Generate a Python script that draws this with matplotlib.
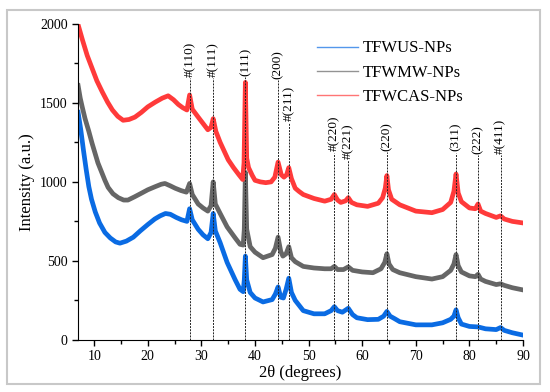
import matplotlib
matplotlib.use("Agg")
import matplotlib.pyplot as plt
from matplotlib.patches import Rectangle

plt.rcParams["font.family"] = ["Liberation Serif", "DejaVu Serif"]

# XRD patterns (2theta in degrees, intensity a.u.)
theta_us = [7.0, 7.5, 8.0, 8.5, 9.0, 9.5, 10.2, 11.0, 12.0, 13.0, 14.0, 14.8, 16.0, 17.3,
            18.6, 20.0, 21.3, 22.3, 23.3, 24.2, 25.3, 26.3, 27.3, 27.8, 28.3, 29.4, 30.3,
            31.2, 31.8, 32.2, 32.6, 33.5, 34.8, 36.3, 37.2, 37.8, 38.0, 38.2, 38.45, 39.1,
            40.0, 41.5, 43.2, 43.8, 44.3, 44.8, 45.3, 45.8, 46.3, 46.8, 47.5, 49.0, 51.0,
            53.0, 54.2, 54.8, 55.4, 56.3, 57.4, 58.2, 59.0, 61.0, 63.0, 64.0, 64.6, 65.2,
            66.0, 67.0, 70.0, 73.0, 75.0, 76.5, 77.1, 77.5, 77.9, 78.5, 80.0, 81.6, 83.0,
            85.0, 85.8, 86.5, 88.0, 90.0]
int_us = [1440, 1330, 1200, 1080, 970, 890, 810, 740, 680, 645, 620, 612, 625, 650,
          690, 730, 765, 785, 800, 795, 775, 760, 750, 830, 760, 700, 665,
          640, 680, 800, 690, 615, 490, 380, 320, 305, 380, 530, 380, 300,
          265, 240, 255, 290, 335, 270, 265, 320, 390, 300, 250, 185, 165,
          165, 185, 210, 185, 175, 200, 160, 140, 128, 130, 150, 180, 150,
          135, 115, 95, 95, 108, 130, 150, 190, 140, 100, 85, 82, 70,
          65, 78, 60, 45, 30]

theta_mw = [7.0, 7.4, 7.8, 8.3, 9.0, 9.6, 10.7, 12.0, 12.6, 13.5, 14.5, 15.5, 16.3, 17.5,
            18.9, 20.0, 21.4, 22.5, 23.2, 24.2, 25.1, 26.2, 27.2, 27.8, 28.3, 29.4, 30.3,
            31.2, 31.8, 32.2, 32.6, 33.5, 34.8, 36.3, 37.2, 37.8, 38.0, 38.2, 38.45, 39.1,
            40.0, 41.5, 43.2, 43.8, 44.3, 44.8, 45.2, 45.8, 46.3, 46.8, 47.5, 49.0, 51.0,
            53.0, 54.2, 54.8, 55.4, 56.5, 57.4, 58.2, 60.0, 62.0, 63.5, 64.2, 64.6, 65.0,
            65.7, 67.0, 70.0, 73.0, 75.0, 76.5, 77.1, 77.5, 77.9, 78.5, 80.0, 81.1, 81.6,
            82.1, 83.0, 85.0, 85.8, 86.5, 88.0, 90.0]
int_mw = [1610, 1530, 1470, 1400, 1320, 1245, 1120, 1010, 965, 925, 900, 885, 885, 905,
          930, 950, 970, 985, 990, 975, 960, 945, 935, 990, 920, 860, 835,
          815, 850, 1000, 860, 800, 715, 645, 605, 600, 700, 1060, 700, 590,
          555, 520, 540, 580, 650, 560, 530, 545, 590, 520, 495, 465, 455,
          450, 450, 465, 445, 445, 462, 440, 430, 425, 450, 490, 545, 480,
          445, 425, 400, 385, 400, 440, 480, 540, 470, 430, 405, 400, 415,
          385, 370, 350, 355, 345, 330, 316]

theta_cas = [7.0, 7.8, 8.7, 9.6, 10.5, 11.5, 12.5, 13.4, 14.4, 15.4, 16.5, 17.6, 18.8,
             20.0, 21.4, 22.7, 23.8, 24.8, 25.7, 26.5, 27.3, 27.8, 28.3, 29.4, 30.3, 31.2,
             31.8, 32.2, 32.7, 33.5, 35.0, 36.0, 37.0, 37.7, 37.95, 38.2, 38.45, 38.8,
             39.5, 40.0, 41.0, 42.0, 43.0, 43.7, 44.3, 44.9, 45.4, 45.9, 46.3, 46.8, 47.5,
             48.2, 49.0, 51.0, 53.0, 54.2, 54.8, 55.4, 56.0, 56.9, 57.4, 58.0, 59.0, 61.0,
             63.0, 63.8, 64.3, 64.6, 64.9, 65.5, 67.0, 70.0, 73.0, 75.0, 76.5, 77.1, 77.5,
             77.9, 78.5, 80.0, 81.1, 81.6, 82.1, 83.0, 85.0, 85.8, 86.5, 88.0, 90.0]
int_cas = [1995, 1900, 1800, 1720, 1640, 1570, 1505, 1455, 1415, 1390, 1395, 1410, 1440,
           1475, 1505, 1530, 1545, 1520, 1490, 1470, 1455, 1550, 1460, 1410, 1370, 1330,
           1345, 1400, 1320, 1250, 1140, 1090, 1045, 1015, 1120, 1630, 1150, 1090,
           1040, 1010, 1000, 995, 1000, 1030, 1125, 1045, 1030, 1045, 1090, 1020, 960,
           940, 920, 895, 878, 890, 920, 885, 870, 880, 900, 870, 855, 845,
           865, 900, 960, 1040, 950, 890, 855, 815, 805, 825, 870, 940, 1050,
           930, 875, 835, 830, 860, 815, 800, 775, 785, 765, 750, 740]

# reflection markers: position, label, height where the label sits
ref_pos = [27.8, 32.2, 38.2, 44.3, 46.3, 54.8, 57.4, 64.6, 77.5, 81.6, 85.8]
ref_lab = ["#(110)", "#(111)", "(111)", "(200)", "#(211)", "#(220)", "#(221)",
           "(220)", "(311)", "(222)", "#(411)"]
ref_top = [1655, 1655, 1665, 1645, 1375, 1185, 1140, 1190, 1185, 1170, 1170]

fig = plt.figure(figsize=(5.5, 3.92), dpi=100)
ax = fig.add_axes([0.142, 0.133, 0.809, 0.806])

# thick lines stand in for the noisy bands of the raw scans
ax.plot(theta_us, int_us, color="#0a6be3", lw=3.4, label="TFWUS-NPs")
ax.plot(theta_mw, int_mw, color="#666666", lw=3.4, label="TFWMW-NPs")
ax.plot(theta_cas, int_cas, color="#ff3a3a", lw=3.4, label="TFWCAS-NPs")

ax.vlines(ref_pos, 0, ref_top, colors="#222222", linewidth=0.7, linestyles=(0, (2, 1.2)))
for x, lab, top in zip(ref_pos, ref_lab, ref_top):
    ax.text(x, top + 8, lab, rotation=90, ha="center", va="bottom", fontsize=9.5)

ax.set_xlim(7, 90)
ax.set_ylim(0, 2000)
ax.set_xticks(range(10, 91, 10))
ax.set_xticks(range(15, 90, 10), minor=True)
ax.set_yticks(range(0, 2001, 500))
ax.set_yticks(range(250, 2000, 500), minor=True)
ax.tick_params(labelsize=10, direction="out", length=4, width=1, color="black")
ax.tick_params(which="minor", length=3, width=1)
ax.spines["top"].set_visible(False)
ax.spines["right"].set_visible(False)
ax.set_xlabel("2θ (degrees)", fontsize=12, labelpad=1)
ax.set_ylabel("Intensity (a.u.)", fontsize=12, labelpad=4)

leg = ax.legend(loc="upper left", bbox_to_anchor=(0.537, 0.948), frameon=False,
                fontsize=12, handlelength=2.45, handletextpad=0.3, borderpad=0,
                borderaxespad=0, labelspacing=0.5)
for line in leg.get_lines():
    line.set_linewidth(1.0)
    line.set_alpha(0.7)

fig.patches.append(Rectangle((7 / 550, 8 / 392), 533 / 550, 374 / 392, transform=fig.transFigure,
                             fill=False, edgecolor="#c8c8c8", linewidth=1.5))

fig.savefig("out.png", dpi=100)
